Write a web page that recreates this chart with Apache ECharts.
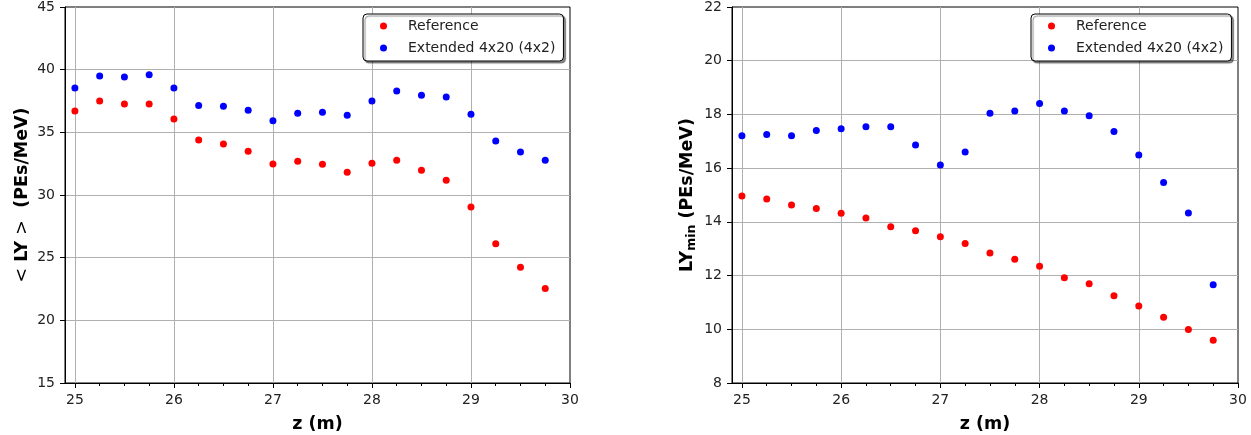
<!DOCTYPE html>
<html><head><meta charset="utf-8">
<script src="https://cdn.jsdelivr.net/npm/echarts@6/dist/echarts.min.js"></script>
<style>html,body{margin:0;padding:0;background:#fff}#c{width:1251px;height:435px}</style>
</head><body><div id="c"></div>
<script>
const zPos = [25.00, 25.25, 25.50, 25.75, 26.00, 26.25, 26.50, 26.75, 27.00, 27.25,
              27.50, 27.75, 28.00, 28.25, 28.50, 28.75, 29.00, 29.25, 29.50, 29.75];
const refMeanLY = [36.70, 37.50, 37.26, 37.26, 36.06, 34.39, 34.07, 33.50, 32.47, 32.70,
                   32.45, 31.81, 32.53, 32.77, 31.97, 31.17, 29.04, 26.12, 24.23, 22.53];
const extMeanLY = [38.54, 39.50, 39.41, 39.60, 38.54, 37.15, 37.08, 36.76, 35.93, 36.52,
                   36.60, 36.36, 37.50, 38.30, 37.95, 37.82, 36.44, 34.31, 33.43, 32.77];
const refMinLY = [14.96, 14.85, 14.63, 14.50, 14.32, 14.14, 13.82, 13.67, 13.45, 13.19,
                  12.84, 12.61, 12.35, 11.92, 11.70, 11.25, 10.87, 10.45, 9.99, 9.59];
const extMinLY = [17.21, 17.25, 17.21, 17.40, 17.47, 17.54, 17.54, 16.86, 16.12, 16.60,
                  18.04, 18.13, 18.41, 18.13, 17.95, 17.36, 16.49, 15.47, 14.33, 11.66];
const xMajorTicks = [25, 26, 27, 28, 29, 30];
const xMinorTicks = [25.25, 25.5, 25.75, 26.25, 26.5, 26.75, 27.25, 27.5, 27.75,
                     28.25, 28.5, 28.75, 29.25, 29.5, 29.75];
const seriesNames = ['Reference', 'Extended 4x20 (4x2)'];

const FONT = 'DejaVu Sans';
const GRIDC = '#b0b0b0';
const X_MAX = 30;

function pairs(xs, ys) { return xs.map((x, i) => [x, ys[i]]); }

const grids = [
  { left: 65, top: 7, width: 505, height: 376 },
  { left: 732, top: 7, width: 506, height: 376 }
];

const xAxes = [];
const yAxes = [];
const series = [];
const legends = [];

const yConf = [
  { min: 15, max: 45, interval: 5,
    name: '{r|<} LY {r|>}  (PEs/MeV)' },
  { min: 8, max: 22, interval: 2,
    name: '{b|LY}{s|min}{b| (PEs/MeV)}' }
];
const dataSets = [[refMeanLY, extMeanLY], [refMinLY, extMinLY]];

grids.forEach((g, gi) => {
  g.show = true; g.borderColor = '#000'; g.borderWidth = 1; g.backgroundColor = '#fff';
  g.containLabel = false; g.outerBoundsMode = 'none';
  xAxes.push({
    type: 'value', gridIndex: gi, min: 24.9, max: X_MAX,
    name: 'z (m)', nameLocation: 'middle', nameGap: 32,
    nameTextStyle: { fontFamily: FONT, fontWeight: 'bold', fontSize: 17.5, color: '#000' },
    axisLine: { show: true, onZero: false, lineStyle: { color: '#000', width: 1 } },
    axisTick: { show: true, inside: false, length: 5, customValues: xMajorTicks, lineStyle: { color: '#000' } },
    axisLabel: { show: true, margin: 10, customValues: xMajorTicks, fontFamily: FONT, fontSize: 14, color: '#222' },
    splitLine: { show: false }
  });
  xAxes.push({
    type: 'value', gridIndex: gi, min: 24.9, max: X_MAX, position: 'bottom',
    axisLine: { show: false },
    axisTick: { show: true, inside: false, length: 3, customValues: xMinorTicks, lineStyle: { color: '#000' } },
    axisLabel: { show: false },
    splitLine: { show: false }
  });
  const yc = yConf[gi];
  yAxes.push({
    type: 'value', gridIndex: gi, min: yc.min, max: yc.max, interval: yc.interval,
    name: yc.name, nameLocation: 'middle', nameGap: 34,
    nameTextStyle: {
      fontFamily: FONT, fontWeight: 'bold', fontSize: 17.5, color: '#000',
      rich: {
        r: { fontFamily: FONT, fontWeight: 'normal', fontSize: 17.5, color: '#000' },
        b: { fontFamily: FONT, fontWeight: 'bold', fontSize: 17.5, color: '#000', lineHeight: 22 },
        s: { fontFamily: FONT, fontWeight: 'bold', fontSize: 12.5, color: '#000', lineHeight: 12, padding: [10, 0, 0, 0] }
      }
    },
    axisLine: { show: true, onZero: false, lineStyle: { color: '#000', width: 1 } },
    axisTick: { show: true, inside: false, length: 5, lineStyle: { color: '#000' } },
    axisLabel: { show: true, margin: 10, fontFamily: FONT, fontSize: 14, color: '#222' },
    splitLine: { show: true, showMinLine: false, showMaxLine: false, lineStyle: { color: GRIDC, width: 1 } }
  });

  // vertical grid lines at the major x ticks (the last one coincides with the frame)
  series.push({
    type: 'scatter', name: '_xgrid' + gi, xAxisIndex: gi * 2, yAxisIndex: gi,
    data: [], z: 1, silent: true,
    markLine: {
      silent: true, symbol: 'none', z: 1, animation: false,
      label: { show: false },
      lineStyle: { color: GRIDC, width: 1, type: 'solid' },
      emphasis: { disabled: true },
      data: xMajorTicks.filter(v => v < X_MAX).map(v => ({ xAxis: v }))
    }
  });
  const colors = ['#ff0000', '#0000ff'];
  dataSets[gi].forEach((ys, si) => {
    series.push({
      type: 'scatter', name: seriesNames[si], xAxisIndex: gi * 2, yAxisIndex: gi,
      data: pairs(zPos, ys), symbol: 'circle', symbolSize: 7, z: 10,
      itemStyle: { color: colors[si], opacity: 1 },
      emphasis: { disabled: true }, animation: false, clip: false
    });
  });

  legends.push({
    data: seriesNames.map(n => ({ name: n, icon: 'circle' })),
    orient: 'vertical',
    left: gi === 0 ? 363 : 1031, top: 14,
    itemWidth: 7, itemHeight: 7, itemGap: 6,
    padding: [4, 8, 5, 17],
    backgroundColor: '#fff', borderColor: '#000', borderWidth: 1, borderRadius: 4,
    shadowColor: 'rgba(0,0,0,0.45)', shadowOffsetX: 2, shadowOffsetY: 2, shadowBlur: 1,
    selectedMode: false,
    textStyle: { fontFamily: FONT, fontSize: 14, color: '#222', lineHeight: 16, padding: [0, 0, 0, 16] }
  });
});

const chart = echarts.init(document.getElementById('c'), null, { renderer: 'canvas' });
chart.setOption({
  animation: false,
  backgroundColor: '#fff',
  grid: grids,
  xAxis: xAxes,
  yAxis: yAxes,
  legend: legends,
  series: series
});
</script>
</body></html>
